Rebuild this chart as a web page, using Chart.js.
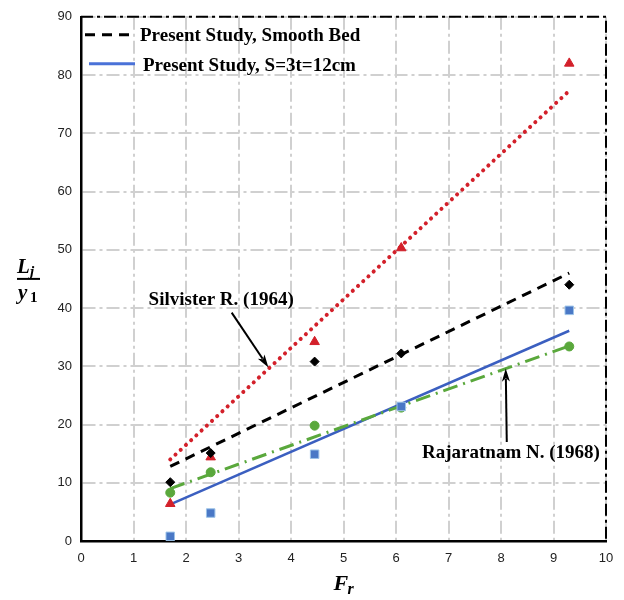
<!DOCTYPE html>
<html><head><meta charset="utf-8">
<script src="https://cdn.jsdelivr.net/npm/chart.js@4"></script>
<style>html,body{margin:0;padding:0;background:#fff}#wrap{width:624px;height:600px}</style>
</head><body><div id="wrap"><canvas id="c" width="624" height="600"></canvas></div>
<script>
// ---- data ----
const froudeNumbers = [1.7, 2.47, 4.45, 6.1, 9.3];
const smoothBedLj   = [10.1, 15.1, 30.8, 32.2, 44.0];
const roughBedLj    = [0.8, 4.8, 14.9, 23.1, 39.6];
const silvesterLj   = [6.4, 14.4, 34.2, 50.3, 82.0];
const rajaratnamLj  = [8.3, 11.8, 19.8, 22.9, 33.4];
const lineFr         = [1.7, 9.3];
const smoothBedLine  = [12.8, 46.0];
const roughBedLine   = [6.3, 36.1];
const silvesterLine  = [14.0, 77.3];
const rajaratnamLine = [9.0, 33.5];
const xTickValues = [0, 1, 2, 3, 4, 5, 6, 7, 8, 9, 10];
const yTickValues = [0, 10, 20, 30, 40, 50, 60, 70, 80, 90];
const legendLabels = ['Present Study, Smooth Bed', 'Present Study, S=3t=12cm'];
const annotationLabels = ['Silvister R. (1964)', 'Rajaratnam N. (1968)'];

const pts = (xs, ys) => xs.map((v, i) => ({x: v, y: ys[i]}));

const RED = '#d3202a', GREEN = '#5aa83c', BLUE = '#3b5fc0', BLACK = '#000';
const SERIF_B = 'bold 19px "Liberation Serif", serif';

const decor = {
  id: 'decor',
  afterDatasetsDraw(chart) {
    const {ctx, chartArea: a, scales: {x, y}} = chart;
    ctx.save();
    // top/right dash-dot frame
    ctx.strokeStyle = '#000'; ctx.lineWidth = 2; ctx.setLineDash([12, 4, 3, 4]);
    ctx.beginPath(); ctx.moveTo(a.left, a.top); ctx.lineTo(a.right, a.top); ctx.lineTo(a.right, a.bottom); ctx.stroke();
    ctx.setLineDash([]);

    // legend (inside plot, top-left)
    ctx.font = SERIF_B; ctx.fillStyle = '#000'; ctx.textBaseline = 'alphabetic'; ctx.textAlign = 'left';
    ctx.strokeStyle = BLACK; ctx.lineWidth = 3; ctx.setLineDash([10, 7]);
    ctx.beginPath(); ctx.moveTo(a.left + 4, a.top + 18); ctx.lineTo(a.left + 53, a.top + 18); ctx.stroke();
    ctx.setLineDash([]);
    ctx.fillText(legendLabels[0], a.left + 59, a.top + 24);
    ctx.strokeStyle = '#4a72d8'; ctx.lineWidth = 3;
    ctx.beginPath(); ctx.moveTo(a.left + 8, a.top + 47); ctx.lineTo(a.left + 54, a.top + 47); ctx.stroke();
    ctx.fillText(legendLabels[1], a.left + 62, a.top + 54);

    // annotations with arrows
    const arrow = (x0, y0, x1, y1) => {
      const X0 = x.getPixelForValue(x0), Y0 = y.getPixelForValue(y0);
      const X1 = x.getPixelForValue(x1), Y1 = y.getPixelForValue(y1);
      const ang = Math.atan2(Y1 - Y0, X1 - X0), L = 13, W = 4;
      ctx.strokeStyle = '#000'; ctx.lineWidth = 2;
      ctx.beginPath(); ctx.moveTo(X0, Y0);
      ctx.lineTo(X1 - Math.cos(ang) * L * 0.8, Y1 - Math.sin(ang) * L * 0.8); ctx.stroke();
      ctx.fillStyle = '#000'; ctx.beginPath();
      ctx.moveTo(X1, Y1);
      ctx.lineTo(X1 - Math.cos(ang) * L - Math.sin(ang) * W, Y1 - Math.sin(ang) * L + Math.cos(ang) * W);
      ctx.lineTo(X1 - Math.cos(ang) * L * 0.75, Y1 - Math.sin(ang) * L * 0.75);
      ctx.lineTo(X1 - Math.cos(ang) * L + Math.sin(ang) * W, Y1 - Math.sin(ang) * L - Math.cos(ang) * W);
      ctx.closePath(); ctx.fill();
    };
    ctx.font = SERIF_B; ctx.fillStyle = '#000'; ctx.textAlign = 'center'; ctx.textBaseline = 'middle';
    ctx.fillText(annotationLabels[0], x.getPixelForValue(2.67), y.getPixelForValue(41.3));
    arrow(2.87, 39.2, 3.57, 29.8);
    ctx.fillStyle = '#000'; ctx.textAlign = 'center'; ctx.textBaseline = 'middle';
    ctx.fillText(annotationLabels[1], x.getPixelForValue(8.19), y.getPixelForValue(15.1));
    arrow(8.11, 17.0, 8.09, 29.6);

    // axis titles
    ctx.fillStyle = '#000'; ctx.textAlign = 'left'; ctx.textBaseline = 'alphabetic';
    const cy = (a.top + a.bottom) / 2;
    ctx.font = 'bold italic 21px "Liberation Serif", serif';
    ctx.fillText('L', 17, cy - 6);
    ctx.font = 'bold italic 15px "Liberation Serif", serif';
    ctx.fillText('j', 30, cy - 3);
    ctx.lineWidth = 2; ctx.strokeStyle = '#000';
    ctx.beginPath(); ctx.moveTo(17, cy); ctx.lineTo(40, cy); ctx.stroke();
    ctx.font = 'bold italic 21px "Liberation Serif", serif';
    ctx.fillText('y', 18, cy + 20);
    ctx.font = 'bold 15px "Liberation Serif", serif';
    ctx.fillText('1', 30, cy + 23);
    const cx = (a.left + a.right) / 2;
    ctx.font = 'bold italic 22px "Liberation Serif", serif';
    ctx.fillText('F', cx - 10, 590);
    ctx.font = 'bold italic 16px "Liberation Serif", serif';
    ctx.fillText('r', cx + 4, 594);
    ctx.restore();
  }
};

const lineDs = (label, ys, color, dash, width, cap) => ({
  type: 'line', label, data: pts(lineFr, ys), borderColor: color, borderWidth: width,
  borderDash: dash, borderCapStyle: cap || 'butt', pointRadius: 0, showLine: true, fill: false, order: 2
});
const ptDs = (label, ys, style, radius, bg, border, bw) => ({
  type: 'scatter', label, data: pts(froudeNumbers, ys), pointStyle: style, pointRadius: radius,
  backgroundColor: bg, borderColor: border, pointBorderWidth: bw, showLine: false, order: 1
});

new Chart(document.getElementById('c'), {
  type: 'scatter',
  data: {
    datasets: [
      ptDs('Smooth Bed data', smoothBedLj, 'rectRot', 4.5, BLACK, BLACK, 1),
      ptDs('S=3t=12cm data', roughBedLj, 'rect', 6, '#4a78c6', '#9cc3e8', 1),
      ptDs('Silvister R. (1964) data', silvesterLj, 'triangle', 5.5, RED, RED, 1),
      ptDs('Rajaratnam N. (1968) data', rajaratnamLj, 'circle', 4.5, GREEN, GREEN, 1),
      lineDs(annotationLabels[0], silvesterLine, RED, [0.1, 7], 4, 'round'),
      lineDs(annotationLabels[1], rajaratnamLine, GREEN, [15, 6, 2, 6], 3),
      lineDs(legendLabels[0], smoothBedLine, BLACK, [10, 7], 3),
      lineDs(legendLabels[1], roughBedLine, BLUE, [], 2.5)
    ]
  },
  options: {
    responsive: false, animation: false, devicePixelRatio: 1,
    layout: {padding: {top: 15, right: 18, left: 0, bottom: 0}},
    plugins: {legend: {display: false}, tooltip: {enabled: false}},
    scales: {
      x: {
        type: 'linear', min: 0, max: 10,
        afterBuildTicks: s => { s.ticks = xTickValues.map(v => ({value: v})); },
        afterFit: s => { s.height = 59; },
        grid: {color: '#d0d0d0', lineWidth: 2, drawTicks: false},
        border: {display: true, color: '#000', width: 2.5, dash: [13, 4, 3, 4]},
        ticks: {padding: 10, color: '#222', font: {family: '"Liberation Sans", sans-serif', size: 13}}
      },
      y: {
        type: 'linear', min: 0, max: 90,
        afterBuildTicks: s => { s.ticks = yTickValues.map(v => ({value: v})); },
        afterFit: s => { s.width = 81; },
        grid: {color: '#d0d0d0', lineWidth: 2, drawTicks: false},
        border: {display: true, color: '#000', width: 2.5, dash: [13, 4, 3, 4]},
        ticks: {padding: 9, color: '#222', font: {family: '"Liberation Sans", sans-serif', size: 13}}
      }
    }
  },
  plugins: [decor]
});
</script></body></html>
